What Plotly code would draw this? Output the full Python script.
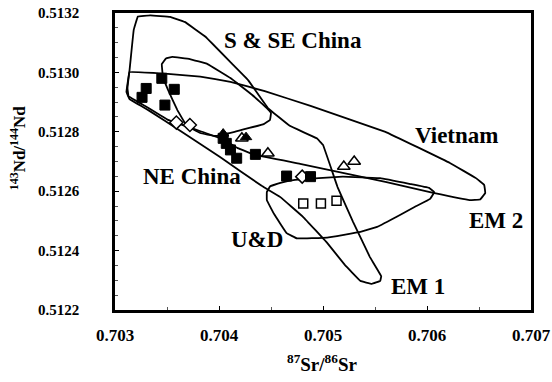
import plotly.graph_objects as go

# ---- field outlines (87Sr/86Sr, 143Nd/144Nd) ----
sse_x = [0.70322, 0.70334, 0.70353, 0.70367, 0.70387, 0.70412, 0.70428, 0.70447, 0.70468, 0.70494,
         0.70500, 0.70514, 0.70529, 0.70545, 0.70556, 0.70555, 0.70547, 0.70536, 0.70521, 0.70504,
         0.70481, 0.70459, 0.70441, 0.70401, 0.70363, 0.70332, 0.70314, 0.70311, 0.70314, 0.70318, 0.70322]
sse_y = [0.513188, 0.513192, 0.513187, 0.513170, 0.513120, 0.513031, 0.512974, 0.512880, 0.512820, 0.512778,
         0.512756, 0.512614, 0.512496, 0.512379, 0.512314, 0.512298, 0.512288, 0.512298, 0.512352, 0.512426,
         0.512513, 0.512580, 0.512618, 0.512715, 0.512803, 0.512873, 0.512910, 0.512934, 0.513008, 0.513143, 0.513188]

viet_x = [0.70314, 0.70348, 0.70382, 0.70411, 0.70444, 0.70488, 0.70560, 0.70622, 0.70647, 0.70655,
          0.70656, 0.70651, 0.70641, 0.70606, 0.70560, 0.70478, 0.70435, 0.70418, 0.70403, 0.70387,
          0.70351, 0.70329, 0.70313, 0.70312, 0.70314]
viet_y = [0.513001, 0.512996, 0.512986, 0.512968, 0.512937, 0.512887, 0.512800, 0.512695, 0.512644, 0.512621,
          0.512594, 0.512572, 0.512570, 0.512594, 0.512631, 0.512692, 0.512722, 0.512745, 0.512776, 0.512796,
          0.512840, 0.512887, 0.512920, 0.512947, 0.513001]

inner_x = [0.70345, 0.70349, 0.70355, 0.70372, 0.70389, 0.70411, 0.70432, 0.70446, 0.70450, 0.70449,
           0.70443, 0.70415, 0.70396, 0.70382, 0.70369, 0.70360, 0.70351, 0.70346, 0.70345]
inner_y = [0.513028, 0.513047, 0.513052, 0.513045, 0.513028, 0.512981, 0.512924, 0.512880, 0.512863, 0.512840,
           0.512826, 0.512800, 0.512786, 0.512796, 0.512820, 0.512873, 0.512941, 0.512988, 0.513028]

ud_x = [0.70446, 0.70449, 0.70459, 0.70473, 0.70519, 0.70555, 0.70584, 0.70602, 0.70607, 0.70603,
        0.70588, 0.70574, 0.70552, 0.70536, 0.70504, 0.70475, 0.70465, 0.70453, 0.70446, 0.70446]
ud_y = [0.512597, 0.512616, 0.512628, 0.512638, 0.512649, 0.512644, 0.512624, 0.512611, 0.512597, 0.512574,
        0.512547, 0.512520, 0.512480, 0.512463, 0.512444, 0.512441, 0.512459, 0.512523, 0.512570, 0.512597]

# ---- samples ----
fsq_x = [0.70345, 0.70330, 0.70326, 0.70357, 0.70348, 0.70404, 0.70407, 0.70411, 0.70417, 0.70435, 0.70465, 0.70488]
fsq_y = [0.512980, 0.512946, 0.512916, 0.512943, 0.512890, 0.512778, 0.512761, 0.512739, 0.512711, 0.512724, 0.512651, 0.512649]

ftri_x = [0.70404, 0.70426]
ftri_y = [0.512794, 0.512782]

otri_x = [0.70422, 0.70447, 0.70520, 0.70530]
otri_y = [0.512778, 0.512728, 0.512683, 0.512700]

odia_x = [0.70359, 0.70372, 0.70480]
odia_y = [0.512831, 0.512823, 0.512649]

osq_x = [0.70481, 0.70498, 0.70513]
osq_y = [0.512559, 0.512559, 0.512568]

labels = ["S & SE China", "Vietnam", "NE China", "U&D", "EM 2", "EM 1"]
label_x = [0.704712, 0.706279, 0.703745, 0.704370, 0.706663, 0.705909]
label_y = [0.513106, 0.512789, 0.512648, 0.512436, 0.512503, 0.512278]

x_ticks = [0.703, 0.704, 0.705, 0.706, 0.707]
y_ticks = [0.5122, 0.5124, 0.5126, 0.5128, 0.5130, 0.5132]

FONT = "Liberation Serif"
fig = go.Figure()

for fx, fy in [(sse_x, sse_y), (viet_x, viet_y), (inner_x, inner_y), (ud_x, ud_y)]:
    fig.add_trace(go.Scatter(x=fx, y=fy, mode="lines",
                             line=dict(color="black", width=1.8, shape="spline", smoothing=0.15),
                             hoverinfo="skip", showlegend=False))

mk_line = dict(color="black", width=1.5)
fig.add_trace(go.Scatter(x=odia_x, y=odia_y, mode="markers",
                         marker=dict(symbol="diamond", size=10, color="white", line=mk_line), showlegend=False))
fig.add_trace(go.Scatter(x=otri_x, y=otri_y, mode="markers",
                         marker=dict(symbol="triangle-up", size=11, color="white", line=mk_line), showlegend=False))
fig.add_trace(go.Scatter(x=osq_x, y=osq_y, mode="markers",
                         marker=dict(symbol="square", size=9, color="white", line=mk_line), showlegend=False))
fig.add_trace(go.Scatter(x=ftri_x, y=ftri_y, mode="markers",
                         marker=dict(symbol="triangle-up", size=10, color="black", line=dict(color="black", width=1)), showlegend=False))
fig.add_trace(go.Scatter(x=fsq_x, y=fsq_y, mode="markers",
                         marker=dict(symbol="square", size=10, color="black", line=dict(color="black", width=1)), showlegend=False))

for t, lx, ly in zip(labels, label_x, label_y):
    fig.add_annotation(x=lx, y=ly, text=t, showarrow=False,
                       font=dict(family=FONT, size=23, color="black", weight="bold"),
                       xanchor="center", yanchor="middle")

fig.add_annotation(xref="paper", yref="paper", x=0.4976, y=-0.18,
                   text="<sup>87</sup>Sr/<sup>86</sup>Sr", showarrow=False,
                   font=dict(family=FONT, size=19, color="black", weight="bold"), xanchor="center", yanchor="middle")
fig.add_annotation(xref="paper", yref="paper", x=-0.233, y=0.545, textangle=-90,
                   text="<sup>143</sup>Nd/<sup>144</sup>Nd", showarrow=False,
                   font=dict(family=FONT, size=17, color="black", weight="bold"), xanchor="center", yanchor="middle")

fig.update_layout(
    width=552, height=382,
    margin=dict(l=115, r=21, t=13, b=72, autoexpand=False),
    paper_bgcolor="white", plot_bgcolor="white",
    font=dict(family=FONT, color="black"),
    xaxis=dict(range=[0.703, 0.707], tickvals=x_ticks, ticktext=["%.3f" % v for v in x_ticks],
               automargin=False,
               showgrid=False, zeroline=False, showline=True, linecolor="black", linewidth=2.5, mirror=True,
               ticks="inside", ticklen=4, tickcolor="black",
               tickfont=dict(family=FONT, size=17, weight="bold"),
               ticklabelstandoff=8,
               minor=dict(dtick=0.0005, ticks="inside", ticklen=3, tickcolor="#555", showgrid=False)),
    yaxis=dict(range=[0.5122, 0.5132], tickvals=y_ticks, ticktext=["%.4f" % v for v in y_ticks],
               automargin=False,
               showgrid=False, zeroline=False, showline=True, linecolor="black", linewidth=2.5, mirror=True,
               ticks="inside", ticklen=4, tickcolor="black",
               tickfont=dict(family=FONT, size=15, weight="bold"),
               ticklabelstandoff=30,
               minor=dict(dtick=0.00005, ticks="inside", ticklen=3, tickcolor="#555", showgrid=False)),
)

fig.write_html("out.html", config={"displayModeBar": False},
               post_script="document.body.style.margin='0px';")
